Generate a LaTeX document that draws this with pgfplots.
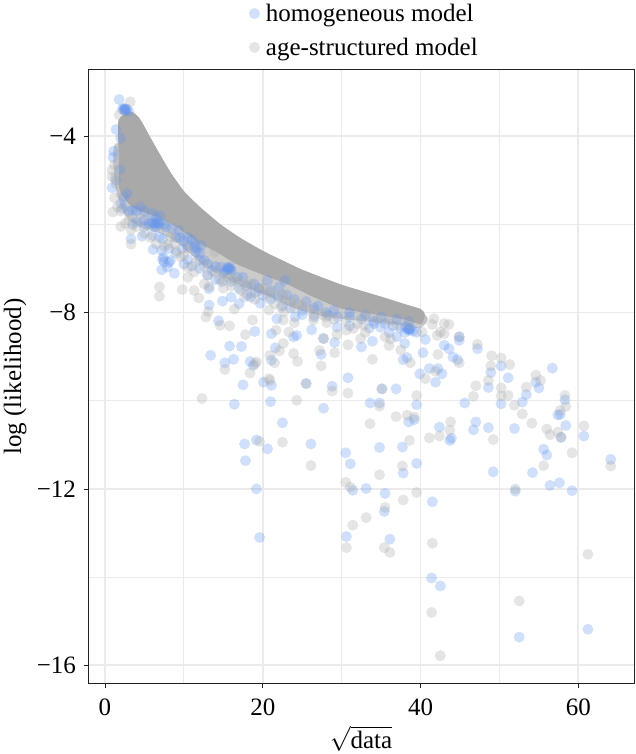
\documentclass[border=0pt]{standalone}
\usepackage{fontspec}
\setmainfont{Liberation Serif}
\usepackage{pgfplots}
\pgfplotsset{compat=1.18}
\usepackage{pgfplotstable}
\definecolor{hblue}{HTML}{6495ED}
\definecolor{agray}{HTML}{A9A9A9}
\definecolor{gridc}{HTML}{EBEBEB}
\definecolor{axisc}{HTML}{222222}
\pgfplotstableread{
x y
1.8 -3.17
2.5 -3.39
2.2 -3.39
2.8 -3.39
2.4 -3.37
2.6 -3.42
3.0 -3.44
2.5 -3.4
2.6 -3.38
2.4 -3.41
1.4 -3.85
2 -4.05
1.1 -4.34
1 -4.48
1.9 -4.76
1.4 -5
0.9 -5.17
2 -5.53
2.2 -5.64
6 -5.97
6.9 -6
6.4 -6.06
6.2 -5.98
6.6 -5.95
6.4 -6
6.8 -5.96
9.4 -6.14
4.7 -6.27
3.3 -6.33
6.9 -6.29
7.3 -6.33
6.1 -6.57
7.2 -6.59
8.1 -6.55
8.3 -6.82
8.1 -6.86
7.2 -7.03
7.9 -6.97
7.3 -6.8
7.5 -6.85
7.4 -6.75
8.8 -7.11
11.3 -6.44
11.5 -6.63
12.2 -6.48
11.4 -6.5
11.6 -6.55
15.6 -7.01
16 -7.05
15.8 -6.97
15.7 -7
15.9 -7.02
15.5 -6.98
13.2 -7.46
13.2 -7.83
14.9 -7.74
16 -7.65
17 -7.8
18.5 -7.65
19.7 -7.79
21.9 -7.65
22.8 -7.27
2.8 -5.3
3.5 -5.68
2.4 -5.38
5 -5.91
5.6 -5.98
7.7 -6.06
10 -6.36
10.5 -6.29
12.6 -6.82
13.6 -7.05
14.7 -6.97
16.8 -7.2
18.9 -7.35
20.6 -7.27
22.1 -7.42
4 -5.7
4.5 -5.6
5 -5.7
6 -5.75
6.5 -5.85
7 -5.8
7.5 -6
8.5 -6.1
9 -6.3
9.5 -6.3
10.5 -6.5
11 -6.35
12 -6.65
12 -6.8
13 -6.9
14 -6.95
15 -7.1
15.3 -7.05
17.5 -7.2
18 -7.4
19.5 -7.45
21 -7.5
23 -7.6
24 -7.7
25.5 -7.75
27 -7.85
29 -7.95
31 -8
33 -8.05
35 -8.1
37 -8.15
38.5 -8.2
9 -6.65
9.8 -6.55
10.5 -6.8
11 -6.95
12 -7
13 -7.15
14 -7.25
14.8 -7.3
16 -7.3
17 -7.45
18 -7.6
19 -7.55
20 -7.6
21 -7.7
22.5 -7.85
23.5 -7.9
25 -8.05
26.5 -8.1
10 -6.9
6 -6.25
5 -6.05
4 -5.95
3 -5.7
3.5 -6
13.4 -8.97
15.2 -9.14
16.3 -9.06
15.8 -8.76
17.3 -8.77
14.4 -8.19
19 -8.43
21.1 -8.48
21.6 -8.8
23.9 -8.55
24.3 -8.52
26.2 -8.39
27.7 -8.59
29.1 -8.68
32.5 -8.78
33.9 -8.65
34.9 -8.33
29.4 -8.33
21.8 -8.14
24.1 -8.1
28.3 -8.06
18.4 -9.11
18.8 -9.2
21.1 -9.08
17.5 -9.64
20.1 -9.58
21.1 -9.65
25.5 -9.61
28.8 -9.67
30.8 -9.48
35.1 -9.73
36.9 -9.73
33.6 -10.05
34.8 -10.05
16.4 -10.08
21 -10.02
27.7 -10.17
22.5 -10.5
17.7 -10.98
19.2 -10.89
20.6 -11.09
26.1 -10.98
17.8 -11.36
30.5 -11.18
31.1 -11.43
34.8 -11.06
19.2 -12
31.4 -12.03
33.1 -11.99
35.5 -12.1
35.4 -12.51
19.6 -13.1
30.6 -13.08
36.1 -13.14
27.4 -8.95
40.3 -8.91
38.3 -9.02
37.8 -9.07
38.5 -10.48
39.2 -10.43
39.5 -10.09
41.1 -9.27
42.2 -9.27
42.7 -9.39
41.9 -9.58
39.9 -9.39
42.4 -10.6
43.7 -10.9
43.9 -10.85
39.5 -11.42
37.8 -11.64
37.7 -11.05
41.5 -12.29
41.4 -14.02
42.5 -14.2
52.5 -15.36
61.2 -15.18
64.1 -11.33
60.7 -10.8
58.4 -10.56
57.4 -10.32
57.7 -10.31
58.3 -9.98
55 -9.71
54.6 -9.58
56.7 -9.26
53.4 -9.86
52.9 -10.03
51.1 -9.48
50.2 -9.21
48.9 -9.36
50.2 -10.07
48.6 -9.7
45.6 -10.05
47 -10.48
46.7 -10.66
48.6 -10.61
51.9 -10.63
55.6 -11.1
56 -11.23
54.2 -11.63
49.2 -11.61
56.4 -11.92
57.6 -11.86
59.2 -12.04
52 -12.05
57.8 -10.83
47.2 -8.82
44.9 -8.55
44.9 -8.63
44.1 -9.01
44.7 -9.07
43 -8.74
43.6 -8.82
40.6 -8.61
38.5 -8.4
38.7 -8.36
38.6 -8.38
38.3 -8.35
38.5 -8.38
38.1 -8.32
25 -7.95
26.5 -7.9
28 -8
29.5 -8.1
31 -8.1
32.5 -8.15
34 -8.2
35.5 -8.25
36.5 -8.3
37.5 -8.35
38 -8.45
39 -8.42
39.5 -8.45
31 -8.3
33.5 -8.35
36 -8.45
37 -8.55
38 -8.7
34.1 -8.25
}\homog
\pgfplotstableread{
x y
0.9 -4.77
0.9 -4.92
1 -5.72
2 -6.05
3.3 -6.45
3.3 -6.12
2.6 -5.98
1.4 -5.08
2 -5.3
1.8 -3.52
3.2 -3.22
6.9 -7.42
6.9 -7.63
9.8 -7.48
11.3 -7.5
11.9 -7.67
13.2 -7.41
15.1 -7.26
16.4 -7.27
18.5 -7.35
19.6 -7.5
22.3 -7.88
10.5 -7.2
11.3 -7.08
12.6 -7.35
8.3 -6.29
8.8 -6.44
9.6 -6.74
10.5 -6.97
16.4 -7.92
17.7 -7.65
13.9 -6.63
15.6 -7.2
17.2 -7.5
20.6 -7.65
22.8 -7.73
20.8 -7.94
8 -6.45
9 -6.6
10 -6.7
10.5 -6.55
11.5 -6.85
12.5 -6.95
13 -7.15
14 -7.1
14.5 -7.25
15 -7.45
16 -7.4
17 -7.3
17.8 -7.4
18.5 -7.55
19 -7.7
20 -7.45
21 -7.55
21.5 -7.8
22.5 -7.6
23.5 -7.75
24 -7.9
25 -7.85
26.5 -8.05
28 -8.1
5 -6.2
5.8 -6.3
6.5 -6.45
7.5 -6.5
4 -6.05
3 -5.9
2 -5.7
1.2 -5.4
1.6 -5.6
1.3 -4.95
1.2 -4.65
12.3 -9.95
15.2 -9.29
14.6 -8.29
15.8 -8.3
12.8 -8.1
13.1 -7.98
18.7 -8.17
17.8 -8.5
21.7 -8.4
23.3 -8.44
22.6 -8.7
22.1 -8.87
23.9 -8.93
24.4 -9.11
21.5 -9.14
20.9 -8.97
19 -9.16
19.2 -9.12
18.4 -9.37
20.9 -9.54
20.8 -9.5
25.5 -9.61
27.7 -8.59
27.2 -8.86
27.4 -9.21
29.1 -8.91
30.8 -8.73
33.9 -9.06
36.2 -8.6
29.4 -8.5
30.6 -8.4
32.4 -8.59
24.3 -9.99
28.8 -9.78
30.8 -9.83
35.1 -9.73
34.8 -10.12
36.9 -10.36
33.6 -10.52
19.6 -10.92
22.5 -10.94
26.1 -11.47
34.8 -11.68
30.5 -11.85
31.1 -11.96
35.5 -12.42
33.1 -12.65
31.4 -12.82
30.6 -13.33
35.4 -13.33
36.1 -13.44
22.6 -8.17
24 -8.23
28.1 -8.23
22.7 -7.98
26.4 -8.17
31.5 -8.36
32.8 -8.29
38.7 -9.14
42.2 -8.95
40.6 -9.5
41.9 -9.33
39.5 -9.88
38.3 -10.33
39.2 -10.37
38.6 -10.9
41.1 -10.84
42.4 -10.8
43.7 -10.67
43.8 -10.48
37.7 -11.48
37.8 -12.25
39.5 -12.08
41.5 -13.23
41.4 -14.8
42.5 -15.78
52.5 -14.54
61.2 -13.48
64.1 -11.48
60.7 -10.57
59.2 -11.18
55.6 -11.47
56 -10.64
56.4 -10.77
57.4 -10.71
57.8 -10.83
58.4 -10.13
58.3 -9.88
57.7 -10.22
55.2 -9.54
54.6 -9.42
53.4 -9.69
54.1 -10.51
52.9 -10.3
51.9 -10.1
51.1 -9.88
50.2 -9.71
50.2 -9.89
48.6 -9.54
48.9 -9.21
49 -8.98
50.2 -9.03
51.3 -9.18
47 -9.66
46.7 -9.9
49.2 -10.88
52 -12
47.2 -8.72
44.9 -9.14
43 -8.25
43.6 -8.27
41.7 -8.14
41.5 -8.27
40.3 -8.17
42.5 -8.44
40.2 -8.44
44.9 -8.55
43 -8.48
42.1 -8.52
24.5 -7.8
26 -7.95
27.5 -8.05
29 -8.15
30.5 -8.2
32 -8.25
33 -8.05
34.5 -8.15
36 -8.2
37 -8.3
38.5 -8.25
39.5 -8.1
33 -8.45
35.5 -8.55
36 -8.75
37.5 -8.85
}\agest
\begin{document}
\begin{tikzpicture}
\useasboundingbox (-88pt,-71pt) rectangle (547pt,683pt);
\begin{axis}[
  at={(0pt,0pt)}, anchor=south west,
  scale only axis, width=546pt, height=613pt,
  xmin=-2.15, xmax=67.05, ymin=-16.4, ymax=-2.5,
  xtick={0,20,40,60}, ytick={-16,-12,-8,-4},
  yticklabels={−16,−12,−8,−4},
  minor xtick={10,30,50}, minor ytick={-14,-10,-6},
  grid=both,
  major grid style={gridc, line width=1.8pt},
  minor grid style={gridc, line width=1.1pt},
  axis line style={axisc, line width=1pt},
  tick align=outside, major tick length=4.5pt,
  tick style={axisc, line width=0.9pt},
  minor tick style={draw=none},
  xtick pos=bottom, ytick pos=left,
  /pgf/number format/assume math mode=true,
  tick label style={font=\fontsize{25}{29}\selectfont},
  yticklabel style={xshift=-4pt},
  xticklabel style={yshift=-8pt},
  label style={font=\fontsize{25}{29}\selectfont},
  xlabel={$\sqrt{\mathrm{data}}$},
  ylabel={log (likelihood)},
  xlabel style={at={(axis description cs:0.5,0)}, anchor=north, yshift=-39pt},
  ylabel style={at={(axis description cs:0,0.5)}, anchor=south, yshift=58pt},
  clip=true,
  legend cell align=left,
  legend style={draw=none, fill=none, at={(0.2945,1.0)}, anchor=south west,
    font=\fontsize{25}{29}\selectfont, row sep=11pt, column sep=4pt, inner sep=0pt, yshift=11pt,
    nodes={inner sep=2pt}},
  legend image code/.code={\draw[#1] plot coordinates {(0pt,0pt)};},
  mark size=5.5pt,
]
\addplot[only marks, mark=*, mark options={draw opacity=0, line width=0pt, fill=hblue, fill opacity=0.3}] table[x=x,y=y] {\homog};
\addlegendentry{homogeneous model}
\addplot[fill=agray, fill opacity=0.6, draw=none, smooth cycle, tension=0.35, forget plot] coordinates {
 (1.2,-4.2) (1.2,-5.0) (2.0,-5.6) (3,-5.9) (5,-6.1) (7,-6.2) (9,-6.4) (11,-6.7) (13,-7.0)
 (15,-7.2) (18,-7.45) (21,-7.65) (24,-7.9) (28,-8.1) (33,-8.2) (38,-8.3) (40,-8.35) (40.5,-8.05)
 (30,-7.5) (20,-6.8) (10,-5.4) (4,-4.2)
};
\addplot[fill=agray, draw=agray, line width=1pt, line join=round, smooth cycle, tension=0.35, forget plot] coordinates {
 (1.78,-3.64) (3.26,-3.45) (4.32,-3.6) (5.17,-3.86) (6.0,-4.13) (7.08,-4.47) (8.35,-4.85)
 (10.04,-5.27) (12.16,-5.64) (14.7,-6.02) (17.25,-6.33) (20.2,-6.63) (23.2,-6.89) (25,-7.04)
 (30,-7.38) (35,-7.65) (38,-7.82) (40,-7.93) (40.5,-8.05) (40,-8.25) (38,-8.15) (35,-8.05) (30,-7.9)
 (26,-7.6) (23.2,-7.35) (21,-7.2) (16.8,-6.9) (14.2,-6.62) (12,-6.42) (9.1,-6.05) (7,-5.85) (3.5,-5.6) (1.9,-5.2) (1.8,-4.4)
};
\addplot[only marks, mark=*, mark options={draw opacity=0, line width=0pt, fill=agray, fill opacity=0.3}] table[x=x,y=y] {\agest};
\addlegendentry{age-structured model}
\end{axis}
\end{tikzpicture}
\end{document}
